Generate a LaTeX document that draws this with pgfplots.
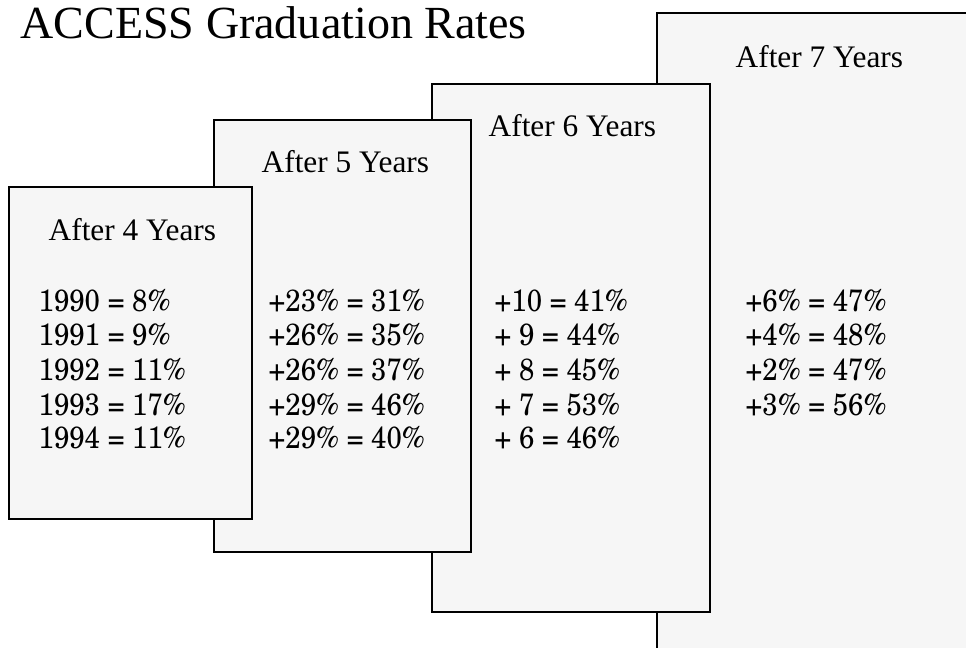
\documentclass[border=0pt]{standalone}
\usepackage{pgfplots}
\pgfplotsset{compat=1.18}
\usepackage{fontspec}
\setmainfont{Liberation Serif}
\newfontfamily\numfont{TeX Gyre Schola}
\definecolor{boxfill}{HTML}{F6F6F6}

\newcommand{\head}[1]{\fontsize{23.5}{28}\selectfont #1}
\newcommand{\num}[1]{\scalebox{0.9}[1]{\numfont\fontsize{23}{27}\selectfont #1}}

\begin{document}
\begin{tikzpicture}
\begin{axis}[
    width=724.5pt, height=486pt, scale only axis,
    xmin=0, xmax=966, ymin=0, ymax=648,
    y dir=reverse,
    hide axis,
    every node/.style={inner sep=0pt},
]
\path (rel axis cs:0,0) rectangle (rel axis cs:1,1);

% boxes, back to front
\addplot[draw=black, line width=2pt, fill=boxfill] coordinates {(657,13) (1010,13) (1010,700) (657,700)} --cycle;
\addplot[draw=black, line width=2pt, fill=boxfill] coordinates {(432,84) (710,84) (710,612) (432,612)} --cycle;
\addplot[draw=black, line width=2pt, fill=boxfill] coordinates {(214,120) (471,120) (471,552) (214,552)} --cycle;
\addplot[draw=black, line width=2pt, fill=boxfill] coordinates {(9,187) (252,187) (252,519) (9,519)} --cycle;

\node[anchor=base west] at (axis cs:16,39) {\fontsize{34.5}{40}\selectfont ACCESS Graduation Rates};

\node[anchor=base west] at (axis cs:44,241) {\head{After 4 Years}};
\node[anchor=base west] at (axis cs:257,173) {\head{After 5 Years}};
\node[anchor=base west] at (axis cs:484,137) {\head{After 6 Years}};
\node[anchor=base west] at (axis cs:731,68) {\head{After 7 Years}};

% after 4 years
\node[anchor=base west] at (axis cs:34,311) {\num{1990 = 8\%}};
\node[anchor=base west] at (axis cs:34,345) {\num{1991 = 9\%}};
\node[anchor=base west] at (axis cs:34,380) {\num{1992 = 11\%}};
\node[anchor=base west] at (axis cs:34,415) {\num{1993 = 17\%}};
\node[anchor=base west] at (axis cs:34,448) {\num{1994 = 11\%}};
% after 5 years
\node[anchor=base west] at (axis cs:264,311) {\num{+23\% = 31\%}};
\node[anchor=base west] at (axis cs:264,345) {\num{+26\% = 35\%}};
\node[anchor=base west] at (axis cs:264,380) {\num{+26\% = 37\%}};
\node[anchor=base west] at (axis cs:264,415) {\num{+29\% = 46\%}};
\node[anchor=base west] at (axis cs:264,448) {\num{+29\% = 40\%}};
% after 6 years
\node[anchor=base west] at (axis cs:490,311) {\num{+10 = 41\%}};
\node[anchor=base west] at (axis cs:490,345) {\num{+ 9 = 44\%}};
\node[anchor=base west] at (axis cs:490,380) {\num{+ 8 = 45\%}};
\node[anchor=base west] at (axis cs:490,415) {\num{+ 7 = 53\%}};
\node[anchor=base west] at (axis cs:490,448) {\num{+ 6 = 46\%}};
% after 7 years
\node[anchor=base west] at (axis cs:741,311) {\num{+6\% = 47\%}};
\node[anchor=base west] at (axis cs:741,345) {\num{+4\% = 48\%}};
\node[anchor=base west] at (axis cs:741,380) {\num{+2\% = 47\%}};
\node[anchor=base west] at (axis cs:741,415) {\num{+3\% = 56\%}};

\end{axis}
\end{tikzpicture}
\end{document}
